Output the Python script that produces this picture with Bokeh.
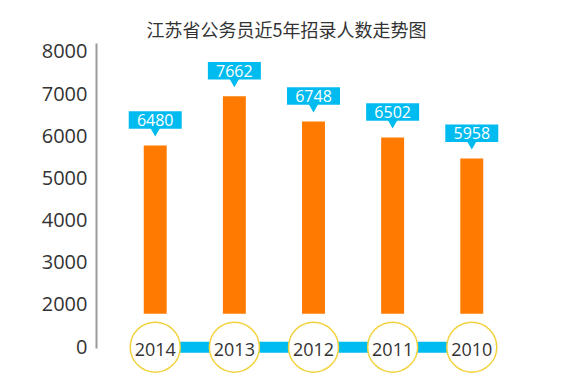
from bokeh.plotting import figure
from bokeh.models import FactorRange, Range1d, FixedTicker, ColumnDataSource
from bokeh.embed import file_html
from bokeh.resources import INLINE
from bokeh.core.properties import value

# ---- data ----
years = ["2014", "2013", "2012", "2011", "2010"]
recruits = [6480, 7662, 6748, 6502, 5958]          # numbers printed in the callouts
bar_tops = [5770, 6940, 6340, 5960, 5460]          # bar tops as read on the y axis
bar_base = 1780                                    # bars start here on the y axis
tick_values = [1000, 2000, 3000, 4000, 5000, 6000, 7000, 8000]
tick_labels = ["0", "2000", "3000", "4000", "5000", "6000", "7000", "8000"]
title_text = "江苏省公务员近5年招录人数走势图"

# ---- layout / style ----
W, H = 560, 374
B_LEFT, B_RIGHT, B_TOP, B_BOTTOM = 96, 30, 43, 0
Y0, Y1 = 335.6, 8189.8
TIMELINE_Y = 985
ORANGE = "#FF7A00"
CYAN = "#00BBF0"
YELLOW = "#F2D23C"
TXT = "#333333"

frame_h = H - B_TOP - B_BOTTOM
px = frame_h / (Y1 - Y0)          # pixels per y unit

p = figure(width=W, height=H, output_backend="svg", toolbar_location=None,
           x_range=FactorRange(*years, range_padding=0.242, range_padding_units="absolute"),
           y_range=Range1d(Y0, Y1),
           min_border_left=B_LEFT, min_border_right=B_RIGHT,
           min_border_top=B_TOP, min_border_bottom=B_BOTTOM,
           title=title_text)
p.outline_line_color = None
p.xgrid.visible = False
p.ygrid.visible = False
p.xaxis.visible = False
p.background_fill_color = "white"
p.border_fill_color = "white"

p.title.text_font = "Noto Sans CJK SC"
p.title.text_font_size = "18px"
p.title.text_font_style = "normal"
p.title.text_color = TXT
p.title.align = "left"
p.title.offset = 50
p.title.standoff = 4

ya = p.yaxis[0]
ya.ticker = FixedTicker(ticks=tick_values)
ya.major_label_overrides = {v: l for v, l in zip(tick_values, tick_labels)}
ya.bounds = (950, Y1)
ya.axis_line_color = "#9A9A9A"
ya.axis_line_width = 2
ya.major_tick_line_color = None
ya.minor_tick_line_color = None
ya.major_tick_in = 0
ya.major_tick_out = 0
ya.major_label_standoff = 9
ya.major_label_text_font = "Open Sans"
ya.major_label_text_font_size = "20px"
ya.major_label_text_color = TXT

src = ColumnDataSource(dict(
    year=years,
    top=bar_tops,
    label=[str(v) for v in recruits],
    box_y=[t + 25.4 / px for t in bar_tops],
    tip_y=[t + 17.1 / px for t in bar_tops],
    line_y=[TIMELINE_Y] * len(years),
))

# bars
p.vbar(x="year", bottom=bar_base, top="top", width=0.29, source=src,
       fill_color=ORANGE, line_color=None)

# callouts
p.scatter(x="year", y="tip_y", marker="inverted_triangle", size=14, source=src,
          fill_color=CYAN, line_color=None)
p.rect(x="year", y="box_y", width=53, height=17.5, width_units="screen",
       height_units="screen", source=src, fill_color=CYAN, line_color=None)
p.text(x="year", y="box_y", text="label", source=src, text_align="center",
       text_baseline="middle", text_color="white", text_font=value("Open Sans"),
       text_font_size="16px")

# timeline
p.line(x="year", y="line_y", source=src, line_color=CYAN, line_width=11)
p.scatter(x="year", y="line_y", marker="circle", size=50, source=src,
          fill_color="white", line_color=YELLOW, line_width=1.5)
p.text(x="year", y="line_y", text="year", source=src, text_align="center",
       text_baseline="middle", text_color=TXT, text_font=value("Open Sans"),
       text_font_size="18px", y_offset=2)

open("out.html", "w").write(file_html(p, INLINE))
